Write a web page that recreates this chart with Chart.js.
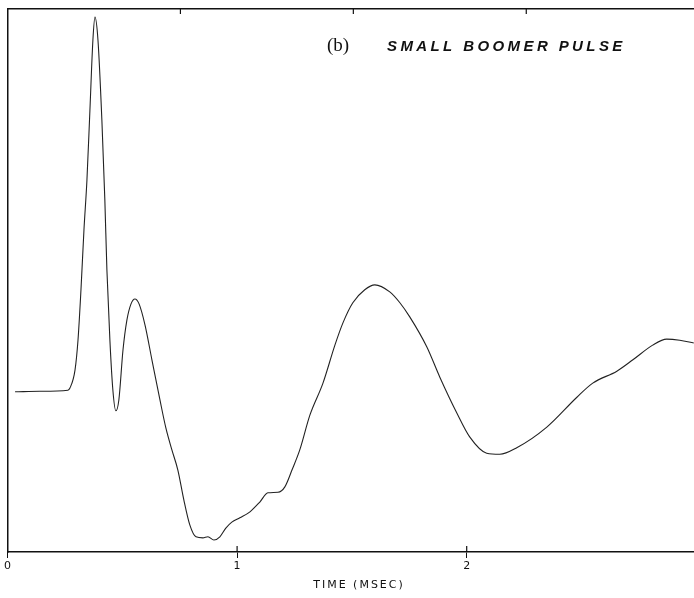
<!DOCTYPE html>
<html>
<head>
<meta charset="utf-8">
<script src="https://cdn.jsdelivr.net/npm/chart.js@4.4.1/dist/chart.umd.min.js"></script>
<style>
  body { margin: 0; background: #fff; }
  #wrap { width: 694px; height: 598px; }
</style>
</head>
<body>
<div id="wrap"><canvas id="pulseChart" width="694" height="598"></canvas></div>
<script>
// time in msec
const timeMs = [0.033, 0.141, 0.263, 0.272, 0.294, 0.307, 0.320, 0.333, 0.346, 0.359, 0.372, 0.381,
  0.394, 0.411, 0.424, 0.433, 0.446, 0.459, 0.472, 0.485, 0.503, 0.520, 0.538, 0.555, 0.573,
  0.599, 0.629, 0.664, 0.690, 0.716, 0.742, 0.768, 0.794, 0.821, 0.851, 0.873, 0.899, 0.925,
  0.951, 0.977, 1.012, 1.056, 1.099, 1.134, 1.178, 1.208, 1.239, 1.273, 1.317, 1.374, 1.426,
  1.461, 1.504, 1.556, 1.600, 1.665, 1.709, 1.752, 1.826, 1.883, 1.957, 2.013, 2.087, 2.144,
  2.218, 2.349, 2.480, 2.549, 2.654, 2.724, 2.810, 2.871, 2.928, 2.989];
// relative amplitude (0 = bottom axis, 100 = top frame)
const amplitude = [29.5, 29.6, 29.8, 30.2, 33.5, 39.0, 48.3, 59.3, 68.5, 81.4, 94.3, 98.5,
  94.3, 79.6, 64.8, 51.9, 39.0, 29.8, 26.0, 28.0, 37.2, 42.7, 45.7, 46.6, 45.7,
  41.8, 35.4, 28.0, 22.8, 18.8, 15.1, 9.6, 5.0, 2.8, 2.6, 2.8, 2.2, 2.8,
  4.4, 5.5, 6.3, 7.4, 9.2, 10.9, 11.0, 12.0, 15.1, 18.8, 25.2, 31.1, 38.1,
  42.2, 45.9, 48.3, 49.2, 47.9, 45.9, 43.3, 37.8, 32.2, 25.6, 21.2, 18.2, 18.0,
  19.2, 23.0, 28.5, 31.1, 33.3, 35.4, 38.1, 39.2, 39.0, 38.5];
const xTickValues = [0, 1, 2];
const topTickValues = [1, 2, 3];

const points = timeMs.map((t, i) => ({ x: t, y: amplitude[i] }));

// inward tick marks + the caption inside the frame
const extras = {
  id: 'extras',
  afterDraw(chart) {
    const ctx = chart.ctx;
    const area = chart.chartArea;
    const xs = chart.scales.x;
    const xt = chart.scales.xTop;
    ctx.save();
    ctx.strokeStyle = '#111';
    ctx.lineWidth = 1.2;
    topTickValues.forEach(v => {
      const px = xt.getPixelForValue(v);
      ctx.beginPath();
      ctx.moveTo(px, area.top);
      ctx.lineTo(px, area.top + 5);
      ctx.stroke();
    });
    xTickValues.slice(1).forEach(v => {
      const px = xs.getPixelForValue(v);
      ctx.beginPath();
      ctx.moveTo(px, area.bottom - 6);
      ctx.lineTo(px, area.bottom);
      ctx.stroke();
    });

    ctx.fillStyle = '#111';
    ctx.textBaseline = 'middle';
    ctx.font = '19px "Liberation Serif", serif';
    ctx.fillText('(b)', 327, 46);
    ctx.font = 'italic bold 15px "Liberation Sans", sans-serif';
    ctx.letterSpacing = '3.4px';
    ctx.fillText('SMALL BOOMER PULSE', 387, 47);
    ctx.font = '11px "DejaVu Sans", sans-serif';
    ctx.letterSpacing = '2px';
    ctx.textAlign = 'center';
    ctx.fillText('TIME (MSEC)', 359, 585);
    ctx.restore();
  }
};

const config = {
  type: 'line',
  data: {
    datasets: [{
      data: points,
      borderColor: '#222',
      borderWidth: 1.1,
      pointRadius: 0,
      fill: false,
      cubicInterpolationMode: 'monotone'
    }]
  },
  options: {
    responsive: false,
    animation: false,
    layout: { padding: 0 },
    plugins: { legend: { display: false }, tooltip: { enabled: false } },
    scales: {
      x: {
        type: 'linear',
        position: 'bottom',
        min: 0,
        max: 2.99,
        afterBuildTicks: s => { s.ticks = xTickValues.map(v => ({ value: v })); },
        afterFit: s => { s.height = 46; },
        grid: { drawOnChartArea: false, drawTicks: true, tickLength: 6, color: '#111' },
        border: { display: true, color: '#111', width: 1.5 },
        ticks: { color: '#111', font: { family: 'DejaVu Sans', size: 11 }, padding: 2, maxRotation: 0 }
      },
      xTop: {
        type: 'linear',
        position: 'top',
        min: 0,
        max: 3.97,
        afterFit: s => { s.height = 9; },
        grid: { display: false },
        border: { display: true, color: '#111', width: 1.5 },
        ticks: { display: false }
      },
      y: {
        min: 0,
        max: 100,
        afterFit: s => { s.width = 7.5; },
        grid: { display: false },
        border: { display: true, color: '#111', width: 1.5 },
        ticks: { display: false }
      }
    }
  },
  plugins: [extras]
};

const pulseChart = new Chart(document.getElementById('pulseChart'), config);
</script>
</body>
</html>
